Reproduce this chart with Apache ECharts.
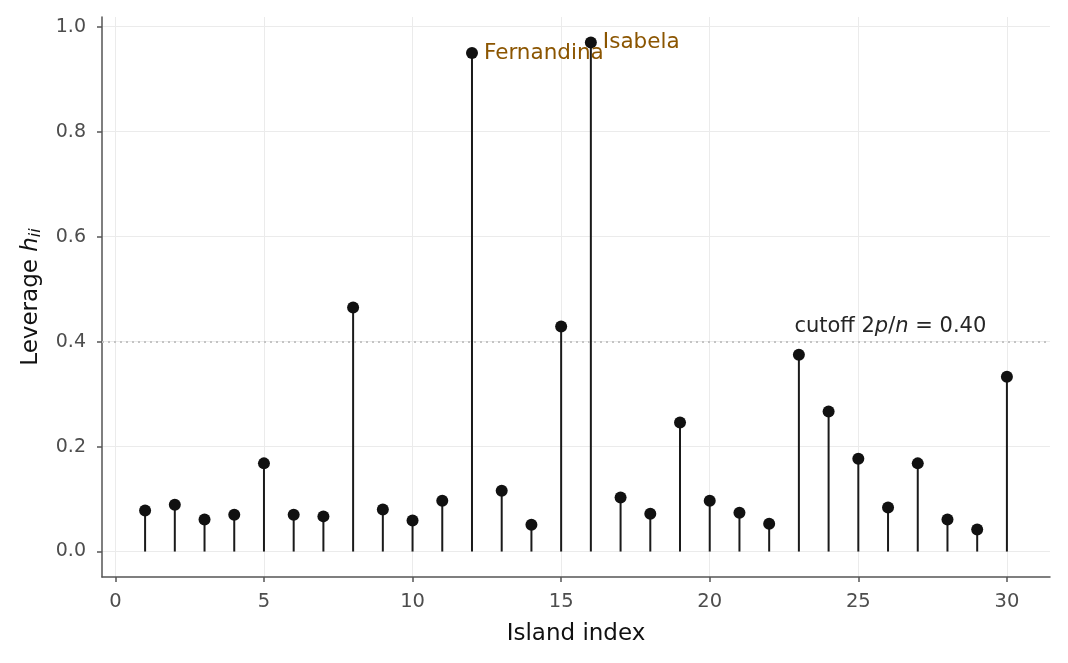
<!DOCTYPE html>
<html>
<head>
<meta charset="utf-8">
<script src="https://cdn.jsdelivr.net/npm/echarts@6/dist/echarts.min.js"></script>
<style>
  html, body { margin: 0; padding: 0; background: #fff; }
  #chart { width: 1068px; height: 663px; }
</style>
</head>
<body>
<div id="chart"></div>
<script>
let islands = [1, 2, 3, 4, 5, 6, 7, 8, 9, 10, 11, 12, 13, 14, 15,
               16, 17, 18, 19, 20, 21, 22, 23, 24, 25, 26, 27, 28, 29, 30];
let leverage = [0.078, 0.089, 0.061, 0.070, 0.168, 0.070, 0.067, 0.465, 0.080, 0.059,
                0.097, 0.950, 0.116, 0.051, 0.429, 0.970, 0.103, 0.072, 0.246, 0.097,
                0.074, 0.053, 0.375, 0.267, 0.177, 0.084, 0.168, 0.061, 0.042, 0.333];
let labelled = {12: 'Fernandina', 16: 'Isabela'};
let cutoff = 0.40;
let xTicks = [0, 5, 10, 15, 20, 25, 30];
let yTicks = [0, 0.2, 0.4, 0.6, 0.8, 1.0];

let font = 'DejaVu Sans';
let points = islands.map((x, i) => [x, leverage[i]]);

let chart = echarts.init(document.getElementById('chart'));

function stemItem(params, api) {
    let top = api.coord([api.value(0), api.value(1)]);
    let base = api.coord([api.value(0), 0]);
    return {
        type: 'line',
        shape: {x1: top[0], y1: top[1], x2: base[0], y2: base[1]},
        style: {stroke: '#1a1a1a', lineWidth: 2}
    };
}

let options = {
    animation: false,
    textStyle: {fontFamily: font},
    grid: {left: 102, right: 18, top: 17, bottom: 86},
    xAxis: {
        type: 'value',
        min: -0.45,
        max: 31.45,
        name: 'Island index',
        nameLocation: 'middle',
        nameGap: 46,
        nameTextStyle: {fontSize: 23, color: '#111', fontFamily: font},
        axisLine: {show: true, onZero: false, lineStyle: {color: '#555', width: 1.5}},
        axisTick: {show: true, length: 5, customValues: xTicks, lineStyle: {color: '#555', width: 1.5}},
        axisLabel: {customValues: xTicks, color: '#4d4d4d', fontSize: 19.5, margin: 15, fontFamily: font},
        splitLine: {show: true, lineStyle: {color: '#ebebeb', width: 1}}
    },
    yAxis: {
        type: 'value',
        min: -0.0485,
        max: 1.0185,
        name: '{a|Leverage }{i|h}{s|ii}',
        nameLocation: 'middle',
        nameGap: 58,
        nameTextStyle: {
            rich: {
                a: {fontSize: 23, color: '#111', fontFamily: font},
                i: {fontSize: 23, color: '#111', fontFamily: font, fontStyle: 'italic'},
                s: {fontSize: 16, color: '#111', fontFamily: font, fontStyle: 'italic', padding: [10, 0, 0, 0]}
            }
        },
        axisLine: {show: true, onZero: false, lineStyle: {color: '#555', width: 1.5}},
        axisTick: {show: true, length: 5, customValues: yTicks, lineStyle: {color: '#555', width: 1.5}},
        axisLabel: {
            customValues: yTicks, color: '#4d4d4d', fontSize: 19, margin: 16, fontFamily: font,
            formatter: v => v.toFixed(1)
        },
        splitLine: {show: true, lineStyle: {color: '#ebebeb', width: 1}}
    },
    series: [
        {
            type: 'custom',
            renderItem: stemItem,
            data: points,
            silent: true,
            z: 2
        },
        {
            type: 'scatter',
            data: points.map(p => {
                let item = {value: p};
                if (labelled[p[0]]) {
                    item.label = {
                        show: true,
                        formatter: labelled[p[0]],
                        position: 'right',
                        distance: 6,
                        offset: [0, 0],
                        color: '#8b5500',
                        fontSize: 21.5,
                        fontFamily: font
                    };
                }
                return item;
            }),
            symbol: 'circle',
            symbolSize: 12,
            itemStyle: {color: '#111', opacity: 1},
            silent: true,
            z: 3,
            markLine: {
                silent: true,
                symbol: 'none',
                label: {show: false},
                lineStyle: {color: '#c4c4c4', type: [2, 4], width: 2},
                data: [{yAxis: cutoff}]
            }
        },
        {
            type: 'scatter',
            data: [[22.85, 0.429]],
            symbolSize: 0,
            silent: true,
            itemStyle: {opacity: 1},
            label: {
                show: true,
                position: 'right',
                distance: 0,
                formatter: '{r|cutoff 2}{i|p}{r|/}{i|n}{r| = 0.40}',
                rich: {
                    r: {fontSize: 21, color: '#262626', fontFamily: font},
                    i: {fontSize: 21, color: '#262626', fontFamily: font, fontStyle: 'italic'}
                }
            }
        }
    ]
};
chart.setOption(options);
</script>
</body>
</html>
